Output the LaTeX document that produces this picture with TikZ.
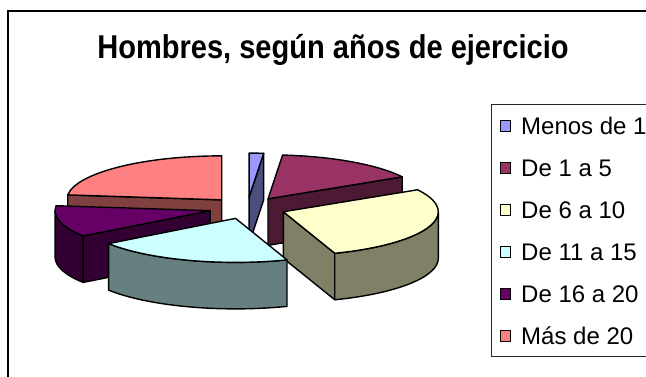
\documentclass[tikz,border=0pt]{standalone}
\usepackage{fontspec}
\setmainfont{Liberation Sans}
\usetikzlibrary{calc}
\definecolor{menT}{HTML}{9999FF}\definecolor{menS}{HTML}{4D4D80}
\definecolor{marT}{HTML}{993366}\definecolor{marS}{HTML}{4D1A33}
\definecolor{yelT}{HTML}{FFFFCC}\definecolor{yelS}{HTML}{808066}
\definecolor{cyaT}{HTML}{CCFFFF}\definecolor{cyaS}{HTML}{668080}
\definecolor{purT}{HTML}{660066}\definecolor{purS}{HTML}{330033}
\definecolor{pinT}{HTML}{FF8080}\definecolor{pinS}{HTML}{804040}
% rim point of a slice (apex, angle)
\newcommand\PieRim[2]{($(#1)+({155*cos(#2)},{44*sin(#2)})$)}
\newcommand\PieTop[4]{\filldraw[pieface,fill=#4] (#1) -- \PieRim{#1}{#2} arc[start angle=#2,end angle=#3,x radius=155,y radius=44] -- cycle;}
\newcommand\PieOuter[4]{\filldraw[pieface,fill=#4] \PieRim{#1}{#2} arc[start angle=#2,end angle=#3,x radius=155,y radius=44] -- ++(0,-46.5) arc[start angle=#3,end angle=#2,x radius=155,y radius=44] -- cycle;}
\newcommand\PieRad[3]{\filldraw[pieface,fill=#3] (#1) -- \PieRim{#1}{#2} -- ++(0,-46.5) -- ($(#1)+(0,-46.5)$) -- cycle;}
\newcommand\PieApex[2]{\coordinate (#1) at ({247.3+38.4*cos(#2)},{168+10.9*sin(#2)});}
\begin{document}
\begin{tikzpicture}[x=1pt,y=1pt,
  pieface/.style={draw=black,line width=1.4pt,line join=round},
  legsq/.style={draw=black,line width=0.8pt,minimum size=10.5pt,inner sep=0pt},
  legtxt/.style={anchor=base west,inner sep=0pt,font=\fontsize{24}{29}\selectfont}]
\useasboundingbox (0,0) rectangle (646,376);
\clip (0,0) rectangle (646,376);
\fill[white] (0,0) rectangle (646,376);
% frame
\draw[line width=2pt] (7.5,-5) -- (7.5,365) -- (660,365);
% title
\node[anchor=base,inner sep=0pt,font=\bfseries\fontsize{33}{39}\selectfont] (title) at (333,318)
  {\scalebox{0.88}[1]{Hombres, según años de ejercicio}};
% apexes
\PieApex{Omen}{87.3}
\PieApex{Omar}{57.3}
\PieApex{Opin}{131.75}
\PieApex{Opur}{194.25}
\PieApex{Oyel}{-20.3}
\PieApex{Ocya}{-107.8}
% Más de 20
\PieRad{Opin}{173.5}{pinS}
\PieTop{Opin}{90}{173.5}{pinT}
% Menos de 1
\PieRad{Omen}{84.6}{menS}
\PieTop{Omen}{84.6}{90}{menT}
% De 1 a 5
\PieRad{Omar}{30}{marS}
\PieTop{Omar}{30}{84.6}{marT}
% De 16 a 20
\PieOuter{Opur}{180}{215}{purS}
\PieRad{Opur}{215}{purS}
\PieTop{Opur}{173.5}{215}{purT}
% De 6 a 10
\PieRad{Oyel}{-70.6}{yelS}
\PieOuter{Oyel}{-70.6}{0}{yelS}
\PieTop{Oyel}{-70.6}{30}{yelT}
% De 11 a 15
\PieOuter{Ocya}{-145}{-70.6}{cyaS}
\PieTop{Ocya}{-145}{-70.6}{cyaT}
% legend
\draw[line width=0.8pt,draw=black!85] (491,20) rectangle (700,272);
\foreach \i/\col/\txt in {0/menT/Menos de 1,1/marT/De 1 a 5,2/yelT/De 6 a 10,3/cyaT/De 11 a 15,4/purT/De 16 a 20,5/pinT/Más de 20}{
  \node[legsq,fill=\col] (sq\i) at (505.5,{250-42*\i}) {};
  \node[legtxt] (lt\i) at (521,{242-42*\i}) {\txt};
}
\end{tikzpicture}
\end{document}
